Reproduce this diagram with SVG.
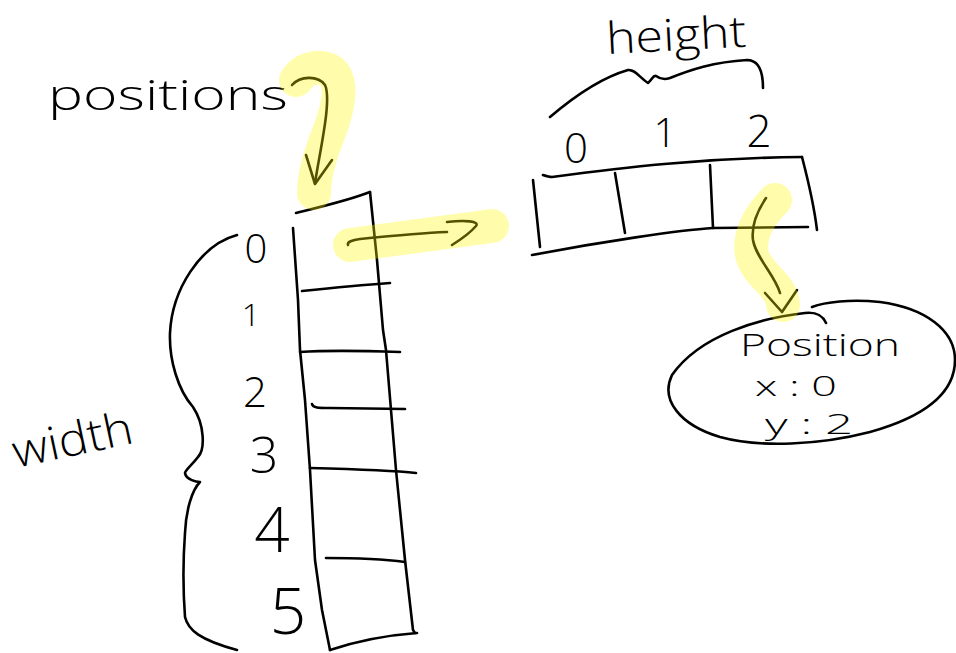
<svg xmlns="http://www.w3.org/2000/svg" width="956" height="653" viewBox="0 0 956 653">
  <style>
    .ink { fill: none; stroke: #000; stroke-width: 2.6; stroke-linecap: round; stroke-linejoin: round; }
    .hand { font-family: "Open Sans", "Liberation Sans", "DejaVu Sans", sans-serif; font-weight: 300; fill: #000; }
    .hl { fill: none; stroke: #fff800; stroke-opacity: 0.33; stroke-width: 34; stroke-linecap: round; stroke-linejoin: round; }
  </style>
  <rect width="956" height="653" fill="#fff"/>

  <!-- label for the outer array -->
  <g id="positions-label">
    <text class="hand" x="48" y="110" font-size="42" textLength="240" lengthAdjust="spacingAndGlyphs">positions</text>
  </g>

  <!-- outer array: one cell per row index -->
  <g id="width-array">
    <path class="ink" d="M296,213 C320,207 350,200 370,192"/>
    <path class="ink" d="M293,228 L298,300 L300,350 L305,400 L310,470 L315,560 L322,610 L330,650"/>
    <path class="ink" d="M370,192 L377,260 L383,330 L386,350 L396,470 L405,560 L413,630 L415,633"/>
    <path class="ink" d="M330,650 C360,640 390,635 417,633"/>
    <path class="ink" d="M302,291 C330,288 360,285 390,283"/>
    <path class="ink" d="M300,352 C330,350 370,351 400,352"/>
    <path class="ink" d="M312,404 C313,408 318,408 330,408 L405,409"/>
    <path class="ink" d="M310,468 C350,469 390,470 416,473"/>
    <path class="ink" d="M326,558 C360,558 390,560 405,562"/>
    <text class="hand" x="256" y="263" font-size="40" text-anchor="middle">0</text>
    <text class="hand" x="251" y="326" font-size="32" text-anchor="middle">1</text>
    <text class="hand" x="255" y="407" font-size="42" text-anchor="middle">2</text>
    <text class="hand" x="264" y="473" font-size="50" text-anchor="middle">3</text>
    <text class="hand" x="272" y="552" font-size="62" text-anchor="middle">4</text>
    <text class="hand" x="288" y="634" font-size="64" text-anchor="middle">5</text>
    <path class="ink" d="M237,235 C200,245 172,290 170,333 C169,360 178,390 193,407 C205,425 205,450 198,457 C192,465 185,470 185,473 C186,480 197,482 200,482 C192,490 186,510 185,533 C183,560 183,590 185,617 C188,630 200,640 237,650"/>
    <text class="hand" x="16" y="468" font-size="46" textLength="122" lengthAdjust="spacingAndGlyphs" transform="rotate(-12 16 468)">width</text>
  </g>

  <!-- inner array: one cell per column index -->
  <g id="height-array">
    <path class="ink" d="M543,175 C546,176 549,177 552,177 C620,168 700,158 802,157"/>
    <path class="ink" d="M802,157 C808,180 814,205 817,230"/>
    <path class="ink" d="M533,180 L540,247"/>
    <path class="ink" d="M532,255 C600,242 680,230 713,228 L808,227"/>
    <path class="ink" d="M615,173 L625,233"/>
    <path class="ink" d="M710,165 L713,228"/>
    <text class="hand" x="576" y="163" font-size="42" text-anchor="middle">0</text>
    <text class="hand" x="665" y="147" font-size="40" text-anchor="middle">1</text>
    <text class="hand" x="759" y="147" font-size="44" text-anchor="middle">2</text>
    <path class="ink" d="M550,117 C570,100 600,78 628,70 C635,69 640,78 648,83 C652,80 653,75 656,76 C660,79 664,80 670,78 C690,70 713,62 747,60 C757,60 763,68 763,88"/>
    <text class="hand" x="607" y="54" font-size="44" textLength="140" lengthAdjust="spacingAndGlyphs" transform="rotate(-3 607 54)">height</text>
  </g>

  <!-- the Position object stored in a cell -->
  <g id="position-object">
    <path class="ink" d="M826,323 C822,314 815,312 805,313 C760,318 700,335 672,375 C660,400 680,425 720,437 C760,448 820,445 870,432 C920,418 955,395 955,360 C955,330 925,308 880,302 C850,299 825,302 812,307"/>
    <text class="hand" x="740" y="356" font-size="32" textLength="160" lengthAdjust="spacingAndGlyphs">Position</text>
    <text class="hand" x="755" y="396" font-size="28" textLength="82" lengthAdjust="spacingAndGlyphs">x : 0</text>
    <text class="hand" x="765" y="434" font-size="28" textLength="88" lengthAdjust="spacingAndGlyphs">y : 2</text>
  </g>

  <!-- connectors with highlighter strokes laid over them -->
  <g id="connectors">
    <path class="ink" d="M292,85 C300,76 318,75 325,85 C332,100 320,150 315,183"/>
    <path class="ink" d="M306,155 L315,184 L332,160"/>
    <path class="ink" d="M348,245 C347,242 352,240 360,239 C390,236 420,233 447,232"/>
    <path class="ink" d="M447,222 C465,220 480,221 476,226 C470,233 460,240 452,245"/>
    <path class="ink" d="M766,198 C758,210 751,225 753,240 C756,258 775,275 780,293"/>
    <path class="ink" d="M765,293 L782,312 L797,290"/>
    <path class="hl" d="M296,80 C305,66 325,64 334,74 C344,88 336,115 328,135 C318,160 314,178 314,193"/>
    <path class="hl" d="M350,245 L492,226"/>
    <path class="hl" d="M775,200 C760,215 748,235 752,255 C757,275 782,285 783,305"/>
  </g>
</svg>
